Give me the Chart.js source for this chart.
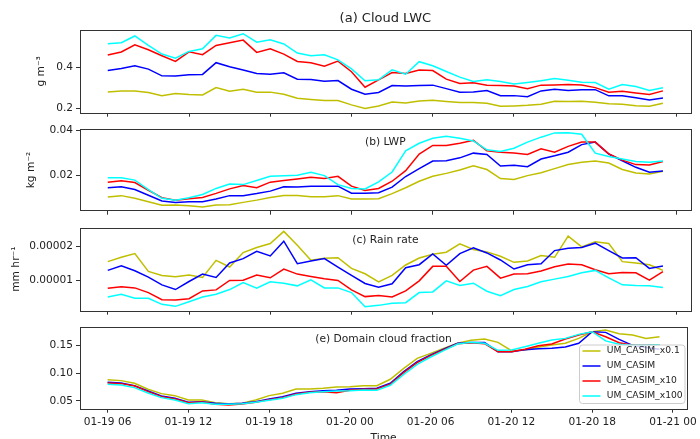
<!DOCTYPE html>
<html lang="en">
<head>
<meta charset="UTF-8" />
<title>UM CASIM sensitivity time series</title>
<script src="https://cdn.jsdelivr.net/npm/chart.js"></script>
<style>
  html, body { margin: 0; padding: 0; background: #fff; width: 700px; height: 439px; overflow: hidden; }
  canvas { position: absolute; left: 0; top: 0; }
</style>
</head>
<body>
<canvas id="lwc" width="700" height="450"></canvas>
<canvas id="lwp" width="700" height="450"></canvas>
<canvas id="rain" width="700" height="450"></canvas>
<canvas id="cf" width="700" height="450"></canvas>
<script>
// hours since 01-19 00 (hourly output, 01-19 06 .. 01-20 23)
const hours = [6,7,8,9,10,11,12,13,14,15,16,17,18,19,20,21,22,23,24,25,26,27,28,29,30,31,32,33,34,35,36,37,38,39,40,41,42,43,44,45,46,47];
const tickHours = [6, 12, 18, 24, 30, 36, 42, 48];
const tickLabels = ['01-19 06', '01-19 12', '01-19 18', '01-20 00', '01-20 06', '01-20 12', '01-20 18', '01-21 00'];

const seriesNames = ['UM_CASIM_x0.1', 'UM_CASIM', 'UM_CASIM_x10', 'UM_CASIM_x100'];
const seriesColors = ['#bfbf00', '#0000ff', '#ff0000', '#00ffff'];

// (a) Cloud LWC, g m-3
const lwc_x01  = [0.281,0.286,0.286,0.278,0.263,0.273,0.268,0.266,0.302,0.284,0.294,0.280,0.280,0.270,0.250,0.244,0.239,0.239,0.218,0.200,0.213,0.232,0.227,0.237,0.240,0.234,0.229,0.229,0.226,0.211,0.213,0.216,0.221,0.236,0.234,0.236,0.231,0.224,0.221,0.214,0.211,0.226];
const lwc_ctl  = [0.385,0.395,0.408,0.392,0.359,0.358,0.364,0.366,0.423,0.403,0.388,0.371,0.367,0.374,0.343,0.341,0.333,0.336,0.294,0.270,0.278,0.312,0.310,0.312,0.314,0.297,0.280,0.281,0.288,0.263,0.263,0.258,0.286,0.294,0.288,0.292,0.292,0.262,0.262,0.253,0.242,0.252];
const lwc_x10  = [0.460,0.475,0.510,0.486,0.457,0.429,0.476,0.462,0.507,0.520,0.533,0.473,0.491,0.465,0.429,0.423,0.406,0.431,0.379,0.304,0.340,0.375,0.371,0.388,0.385,0.343,0.322,0.325,0.314,0.312,0.310,0.297,0.314,0.315,0.317,0.315,0.302,0.280,0.284,0.276,0.268,0.286];
const lwc_x100 = [0.515,0.520,0.553,0.507,0.465,0.445,0.478,0.491,0.556,0.543,0.564,0.523,0.535,0.514,0.470,0.457,0.462,0.437,0.393,0.335,0.340,0.388,0.367,0.428,0.408,0.380,0.353,0.332,0.340,0.332,0.320,0.327,0.335,0.346,0.338,0.328,0.327,0.294,0.317,0.307,0.288,0.301];

// (b) LWP, kg m-2
const lwp_x01  = [0.0105,0.0111,0.0099,0.0084,0.0068,0.0069,0.0066,0.0060,0.0069,0.0071,0.0081,0.0091,0.0103,0.0112,0.0112,0.0106,0.0106,0.0111,0.0096,0.0096,0.0097,0.0120,0.0146,0.0175,0.0197,0.0210,0.0225,0.0244,0.0227,0.0187,0.0183,0.0200,0.0213,0.0231,0.0249,0.0259,0.0265,0.0256,0.0227,0.0212,0.0207,0.0219];
const lwp_ctl  = [0.0146,0.0150,0.0138,0.0113,0.0087,0.0080,0.0084,0.0084,0.0096,0.0111,0.0111,0.0120,0.0131,0.0150,0.0149,0.0153,0.0153,0.0153,0.0122,0.0122,0.0124,0.0149,0.0196,0.0231,0.0265,0.0266,0.0279,0.0300,0.0294,0.0243,0.0246,0.0240,0.0274,0.0288,0.0304,0.0338,0.0349,0.0296,0.0266,0.0237,0.0215,0.0221];
const lwp_x10  = [0.0171,0.0177,0.0169,0.0135,0.0102,0.0090,0.0097,0.0103,0.0121,0.0141,0.0156,0.0146,0.0171,0.0178,0.0185,0.0193,0.0187,0.0197,0.0153,0.0134,0.0143,0.0175,0.0222,0.0296,0.0334,0.0334,0.0344,0.0357,0.0310,0.0304,0.0301,0.0294,0.0319,0.0304,0.0330,0.0349,0.0349,0.0297,0.0269,0.0249,0.0247,0.0263];
const lwp_x100 = [0.0190,0.0190,0.0180,0.0138,0.0099,0.0090,0.0102,0.0116,0.0143,0.0163,0.0160,0.0178,0.0197,0.0199,0.0202,0.0215,0.0200,0.0160,0.0143,0.0141,0.0172,0.0216,0.0310,0.0344,0.0366,0.0375,0.0366,0.0354,0.0315,0.0307,0.0322,0.0349,0.0371,0.0390,0.0391,0.0384,0.0300,0.0285,0.0274,0.0263,0.0260,0.0265];

// (c) Rain rate, mm hr-1
const rain_x01  = [1.545e-5,1.673e-5,1.782e-5,1.257e-5,1.139e-5,1.099e-5,1.148e-5,1.079e-5,1.584e-5,1.386e-5,1.812e-5,1.960e-5,2.079e-5,2.436e-5,2.030e-5,1.584e-5,1.644e-5,1.663e-5,1.346e-5,1.188e-5,0.950e-5,1.139e-5,1.446e-5,1.653e-5,1.762e-5,1.822e-5,2.069e-5,1.901e-5,1.832e-5,1.703e-5,1.525e-5,1.564e-5,1.723e-5,1.673e-5,2.297e-5,1.980e-5,2.129e-5,2.079e-5,1.545e-5,1.505e-5,1.455e-5,1.287e-5];
const rain_ctl  = [1.287e-5,1.426e-5,1.277e-5,1.089e-5,0.861e-5,0.723e-5,0.960e-5,1.178e-5,1.079e-5,1.505e-5,1.634e-5,1.851e-5,1.713e-5,2.148e-5,1.485e-5,1.564e-5,1.634e-5,1.386e-5,1.139e-5,0.901e-5,0.792e-5,0.891e-5,1.366e-5,1.455e-5,1.772e-5,1.436e-5,1.782e-5,1.950e-5,1.802e-5,1.594e-5,1.327e-5,1.455e-5,1.485e-5,1.871e-5,1.941e-5,1.960e-5,2.089e-5,1.871e-5,1.653e-5,1.663e-5,1.346e-5,1.416e-5];
const rain_x10  = [0.762e-5,0.802e-5,0.772e-5,0.634e-5,0.426e-5,0.416e-5,0.455e-5,0.683e-5,0.713e-5,0.990e-5,1.000e-5,1.148e-5,1.069e-5,1.327e-5,1.178e-5,1.109e-5,1.040e-5,0.990e-5,0.713e-5,0.515e-5,0.545e-5,0.505e-5,0.683e-5,0.980e-5,1.406e-5,1.406e-5,0.960e-5,1.297e-5,1.406e-5,1.059e-5,1.178e-5,1.188e-5,1.267e-5,1.396e-5,1.475e-5,1.455e-5,1.307e-5,1.188e-5,1.228e-5,1.218e-5,1.000e-5,1.248e-5];
const rain_x100 = [0.505e-5,0.584e-5,0.465e-5,0.465e-5,0.287e-5,0.228e-5,0.366e-5,0.505e-5,0.584e-5,0.723e-5,0.931e-5,0.762e-5,0.950e-5,0.911e-5,0.832e-5,1.010e-5,0.772e-5,0.772e-5,0.634e-5,0.218e-5,0.257e-5,0.317e-5,0.337e-5,0.634e-5,0.653e-5,0.980e-5,0.842e-5,0.911e-5,0.673e-5,0.545e-5,0.723e-5,0.812e-5,0.950e-5,1.030e-5,1.109e-5,1.218e-5,1.287e-5,1.069e-5,0.861e-5,0.842e-5,0.832e-5,0.782e-5];

// (e) Domain cloud fraction
const cf_x01  = [0.0880,0.0865,0.0817,0.0709,0.0631,0.0595,0.0517,0.0517,0.0469,0.0451,0.0457,0.0517,0.0595,0.0637,0.0715,0.0715,0.0727,0.0751,0.0757,0.0775,0.0775,0.0889,0.1086,0.1266,0.1356,0.1446,0.1536,0.1590,0.1613,0.1553,0.1404,0.1416,0.1470,0.1506,0.1536,0.1625,0.1745,0.1775,0.1709,0.1685,0.1625,0.1655];
const cf_ctl  = [0.0835,0.0823,0.0775,0.0679,0.0589,0.0547,0.0475,0.0487,0.0457,0.0445,0.0457,0.0487,0.0535,0.0577,0.0637,0.0667,0.0685,0.0691,0.0715,0.0721,0.0727,0.0817,0.1026,0.1206,0.1326,0.1434,0.1536,0.1553,0.1553,0.1386,0.1386,0.1422,0.1440,0.1446,0.1470,0.1536,0.1745,0.1733,0.1608,0.1500,0.1460,0.1430];
const cf_x10  = [0.0823,0.0811,0.0769,0.0667,0.0577,0.0535,0.0469,0.0481,0.0439,0.0427,0.0445,0.0475,0.0523,0.0559,0.0625,0.0655,0.0667,0.0649,0.0691,0.0709,0.0715,0.0799,0.1008,0.1188,0.1314,0.1422,0.1530,0.1547,0.1530,0.1386,0.1386,0.1428,0.1494,0.1523,0.1613,0.1685,0.1745,0.1655,0.1547,0.1500,0.1500,0.1510];
const cf_x100 = [0.0799,0.0787,0.0739,0.0643,0.0559,0.0517,0.0451,0.0469,0.0439,0.0439,0.0451,0.0475,0.0511,0.0547,0.0613,0.0649,0.0667,0.0679,0.0685,0.0697,0.0691,0.0781,0.0978,0.1158,0.1290,0.1410,0.1524,0.1553,0.1536,0.1410,0.1416,0.1476,0.1536,0.1595,0.1625,0.1697,0.1745,0.1580,0.1520,0.1500,0.1500,0.1510];

const CANVAS_H = 450;
const FONT = 'DejaVu Sans';
const textColor = '#222';
const axisColor = '#333';
Chart.defaults.font.family = FONT;

// full box round the axes, like matplotlib spines
const framePlugin = {
  id: 'frame',
  afterDraw(chart) {
    const a = chart.chartArea, c = chart.ctx;
    c.save();
    c.strokeStyle = axisColor;
    c.lineWidth = 1;
    c.strokeRect(Math.round(a.left) + 0.5, Math.round(a.top) + 0.5,
                 Math.round(a.right - a.left), Math.round(a.bottom - a.top));
    c.restore();
  }
};

function textPlugin(label, size, dy) {
  return {
    id: 'panelText',
    afterDraw(chart) {
      const a = chart.chartArea, c = chart.ctx;
      c.save();
      c.fillStyle = textColor;
      c.font = size + 'px "' + FONT + '"';
      c.textAlign = 'center';
      c.textBaseline = 'middle';
      c.fillText(label, (a.left + a.right) / 2, a.top + dy);
      c.restore();
    }
  };
}

const legendPlugin = {
  id: 'boxLegend',
  afterDatasetsDraw(chart) {
    const c = chart.ctx;
    const x0 = 579.5, y0 = 345, w = 105.5, h = 58.5, r = 3;
    c.save();
    c.beginPath();
    c.roundRect(x0, y0, w, h, r);
    c.fillStyle = 'rgba(255,255,255,0.8)';
    c.fill();
    c.strokeStyle = '#cccccc';
    c.lineWidth = 1;
    c.stroke();
    c.font = '9.2px "' + FONT + '"';
    c.textBaseline = 'middle';
    chart.data.datasets.forEach((ds, k) => {
      const y = 351 + k * 15;
      c.strokeStyle = ds.borderColor;
      c.lineWidth = 1.5;
      c.beginPath();
      c.moveTo(582.5, y);
      c.lineTo(600.5, y);
      c.stroke();
      c.fillStyle = textColor;
      c.fillText(ds.label, 606.7, y);
    });
    c.restore();
  }
};

function makePanel(id, cfg) {
  const isBottom = !!cfg.isBottom;
  const plugins = [framePlugin];
  if (cfg.title) plugins.push(textPlugin(cfg.title, 13, -11));
  if (cfg.inner) plugins.push(textPlugin(cfg.inner, 10.7, 13));
  if (isBottom) plugins.push(legendPlugin);

  return new Chart(document.getElementById(id), {
    type: 'line',
    data: {
      datasets: cfg.series.map((vals, k) => ({
        label: seriesNames[k],
        data: vals.map((v, i) => ({ x: hours[i], y: v })),
        borderColor: seriesColors[k],
        borderWidth: 1.5,
        pointRadius: 0,
        tension: 0,
        fill: false,
        order: 3 - k
      }))
    },
    options: {
      responsive: false,
      animation: false,
      events: [],
      layout: { padding: { top: cfg.top, right: 9.3, left: 0, bottom: 0 } },
      plugins: { legend: { display: false }, tooltip: { enabled: false } },
      scales: {
        x: {
          type: 'linear',
          min: 3.95,
          max: 49.05,
          afterBuildTicks: s => { s.ticks = tickHours.map(v => ({ value: v })); },
          afterFit: s => { s.height = CANVAS_H - cfg.bottom; },
          grid: { drawOnChartArea: false, drawTicks: true, tickLength: 4, color: axisColor },
          border: { display: false },
          ticks: {
            display: isBottom, autoSkip: false, maxRotation: 0, padding: 3,
            color: textColor, font: { size: 10.6 },
            callback: v => tickLabels[tickHours.indexOf(v)]
          },
          title: {
            display: isBottom, text: 'Time', color: textColor,
            font: { size: 10.7 }, padding: { top: 0, bottom: 5.6 }
          }
        },
        y: {
          min: cfg.yMin,
          max: cfg.yMax,
          afterBuildTicks: s => { s.ticks = cfg.yTicks.map(v => ({ value: v })); },
          afterFit: s => { s.width = 80; },
          grid: { drawOnChartArea: false, drawTicks: true, tickLength: 4, color: axisColor },
          border: { display: false },
          ticks: {
            padding: 3, color: textColor, font: { size: 10.6 },
            callback: v => cfg.yLabels[cfg.yTicks.indexOf(v)]
          },
          title: {
            display: !!cfg.yTitle, text: cfg.yTitle, color: textColor,
            font: { size: 10.7 }, padding: { top: cfg.yTitlePad, bottom: 0 }
          }
        }
      }
    },
    plugins: plugins
  });
}

makePanel('lwc', {
  series: [lwc_x01, lwc_ctl, lwc_x10, lwc_x100],
  top: 30, bottom: 112.7, yMin: 0.18, yMax: 0.582,
  yTicks: [0.2, 0.4], yLabels: ['0.2', '0.4'],
  yTitle: 'g m\u207B\u00B3', yTitlePad: 34.6,
  title: '(a) Cloud LWC'
});

makePanel('lwp', {
  series: [lwp_x01, lwp_ctl, lwp_x10, lwp_x100],
  top: 129.3, bottom: 210.7, yMin: 0.0044, yMax: 0.0406,
  yTicks: [0.02, 0.04], yLabels: ['0.02', '0.04'],
  yTitle: 'kg m\u207B\u00B2', yTitlePad: 25.3,
  inner: '(b) LWP'
});

makePanel('rain', {
  series: [rain_x01, rain_ctl, rain_x10, rain_x100],
  top: 227.7, bottom: 310.7, yMin: 0.1e-5, yMax: 2.545e-5,
  yTicks: [1e-5, 2e-5], yLabels: ['0.00001', '0.00002'],
  yTitle: 'mm hr\u207B\u00B9', yTitlePad: 9.8,
  inner: '(c) Rain rate'
});

makePanel('cf', {
  series: [cf_x01, cf_ctl, cf_x10, cf_x100],
  top: 326.7, bottom: 408.7, yMin: 0.036, yMax: 0.1835,
  yTicks: [0.05, 0.10, 0.15], yLabels: ['0.05', '0.10', '0.15'],
  inner: '(e) Domain cloud fraction',
  isBottom: true
});
</script>
</body>
</html>
